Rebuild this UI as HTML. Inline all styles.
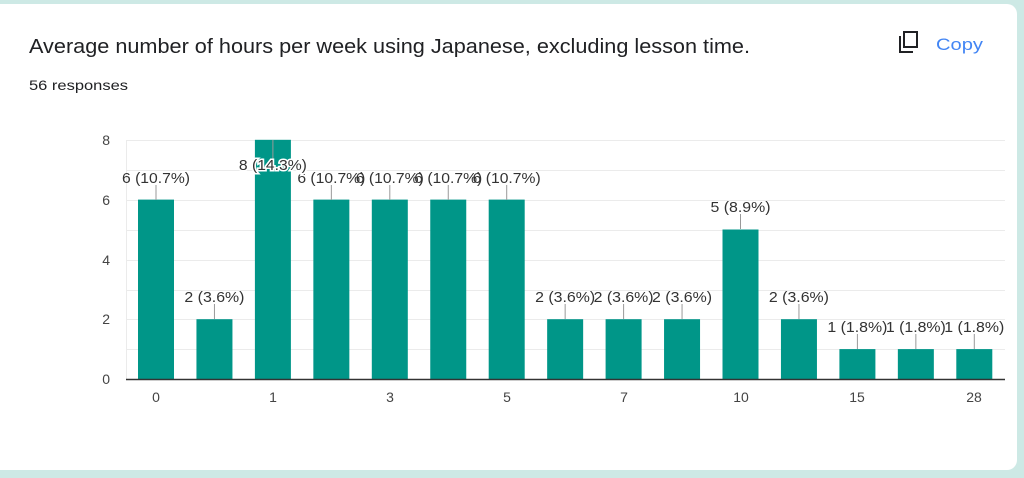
<!DOCTYPE html>
<html><head><meta charset="utf-8"><style>
html,body{margin:0;padding:0;width:1024px;height:478px;overflow:hidden;background:#cde9e5;font-family:"Liberation Sans",Arial,sans-serif}
.card{position:absolute;left:-10px;top:4px;width:1027px;height:466px;background:#fff;border-radius:10px}
</style></head><body>
<div class="card"></div>
<svg width="1024" height="478" style="position:absolute;left:0;top:0" font-family="Liberation Sans, Arial, sans-serif">
<text x="29" y="53" font-size="20" fill="#202124" textLength="721" lengthAdjust="spacingAndGlyphs">Average number of hours per week using Japanese, excluding lesson time.</text>
<text x="29" y="90" font-size="14" fill="#202124" textLength="99" lengthAdjust="spacingAndGlyphs">56 responses</text>
<g fill="none" stroke="#202124" stroke-width="2">
<rect x="904" y="32" width="13" height="15"/>
<path d="M900 36 V52 H913"/>
</g>
<text x="936" y="50" font-size="17" fill="#4285f4" textLength="47" lengthAdjust="spacingAndGlyphs">Copy</text>
<g stroke="#ebebeb" stroke-width="1">
<line x1="126" x2="1005" y1="140.5" y2="140.5"/><line x1="126" x2="1005" y1="170.5" y2="170.5"/>
<line x1="126" x2="1005" y1="200.5" y2="200.5"/><line x1="126" x2="1005" y1="230.5" y2="230.5"/>
<line x1="126" x2="1005" y1="260.5" y2="260.5"/><line x1="126" x2="1005" y1="290.5" y2="290.5"/>
<line x1="126" x2="1005" y1="319.5" y2="319.5"/><line x1="126" x2="1005" y1="349.5" y2="349.5"/>
<line x1="126.5" x2="126.5" y1="140" y2="379"/>
</g>
<g font-size="14" fill="#444" text-anchor="end">
<text x="110" y="145">8</text><text x="110" y="205">6</text><text x="110" y="265">4</text><text x="110" y="324">2</text><text x="110" y="384">0</text>
</g>
<g fill="#009688">
<rect x="138" y="199.6" width="36" height="179.4"/>
<rect x="196.45" y="319.2" width="36" height="59.8"/>
<rect x="254.9" y="139.8" width="36" height="239.2"/>
<rect x="313.35" y="199.6" width="36" height="179.4"/>
<rect x="371.8" y="199.6" width="36" height="179.4"/>
<rect x="430.25" y="199.6" width="36" height="179.4"/>
<rect x="488.7" y="199.6" width="36" height="179.4"/>
<rect x="547.15" y="319.2" width="36" height="59.8"/>
<rect x="605.6" y="319.2" width="36" height="59.8"/>
<rect x="664.05" y="319.2" width="36" height="59.8"/>
<rect x="722.5" y="229.5" width="36" height="149.5"/>
<rect x="780.95" y="319.2" width="36" height="59.8"/>
<rect x="839.4" y="349.1" width="36" height="29.9"/>
<rect x="897.85" y="349.1" width="36" height="29.9"/>
<rect x="956.3" y="349.1" width="36" height="29.9"/>
</g>
<line x1="126" x2="1005" y1="379.5" y2="379.5" stroke="#333" stroke-width="1.5"/>
<g font-size="14" fill="#444" text-anchor="middle">
<text x="156" y="402">0</text><text x="273" y="402">1</text><text x="390" y="402">3</text><text x="507" y="402">5</text><text x="624" y="402">7</text><text x="741" y="402">10</text><text x="857" y="402">15</text><text x="974" y="402">28</text>
</g>
<g stroke="#999" stroke-width="1">
<line x1="156" x2="156" y1="185" y2="200"/>
<line x1="214.45" x2="214.45" y1="304" y2="319"/>
<line x1="272.9" x2="272.9" y1="140" y2="160"/>
<line x1="331.35" x2="331.35" y1="185" y2="200"/>
<line x1="389.8" x2="389.8" y1="185" y2="200"/>
<line x1="448.25" x2="448.25" y1="185" y2="200"/>
<line x1="506.7" x2="506.7" y1="185" y2="200"/>
<line x1="565.15" x2="565.15" y1="304" y2="319"/>
<line x1="623.6" x2="623.6" y1="304" y2="319"/>
<line x1="682.05" x2="682.05" y1="304" y2="319"/>
<line x1="740.5" x2="740.5" y1="214" y2="229"/>
<line x1="798.95" x2="798.95" y1="304" y2="319"/>
<line x1="857.4" x2="857.4" y1="334" y2="349"/>
<line x1="915.85" x2="915.85" y1="334" y2="349"/>
<line x1="974.3" x2="974.3" y1="334" y2="349"/>
</g>
<g font-size="14.5" fill="#333" text-anchor="middle" lengthAdjust="spacingAndGlyphs">
<text x="156" y="183" textLength="68" lengthAdjust="spacingAndGlyphs">6 (10.7%)</text>
<text x="214.45" y="302" textLength="60" lengthAdjust="spacingAndGlyphs">2 (3.6%)</text>
<text x="331.35" y="183" textLength="68" lengthAdjust="spacingAndGlyphs">6 (10.7%)</text>
<text x="389.8" y="183" textLength="68" lengthAdjust="spacingAndGlyphs">6 (10.7%)</text>
<text x="448.25" y="183" textLength="68" lengthAdjust="spacingAndGlyphs">6 (10.7%)</text>
<text x="506.7" y="183" textLength="68" lengthAdjust="spacingAndGlyphs">6 (10.7%)</text>
<text x="565.15" y="302" textLength="60" lengthAdjust="spacingAndGlyphs">2 (3.6%)</text>
<text x="623.6" y="302" textLength="60" lengthAdjust="spacingAndGlyphs">2 (3.6%)</text>
<text x="682.05" y="302" textLength="60" lengthAdjust="spacingAndGlyphs">2 (3.6%)</text>
<text x="740.5" y="212" textLength="60" lengthAdjust="spacingAndGlyphs">5 (8.9%)</text>
<text x="798.95" y="302" textLength="60" lengthAdjust="spacingAndGlyphs">2 (3.6%)</text>
<text x="857.4" y="332" textLength="60" lengthAdjust="spacingAndGlyphs">1 (1.8%)</text>
<text x="915.85" y="332" textLength="60" lengthAdjust="spacingAndGlyphs">1 (1.8%)</text>
<text x="974.3" y="332" textLength="60" lengthAdjust="spacingAndGlyphs">1 (1.8%)</text>
<text x="272.9" y="170" textLength="68" lengthAdjust="spacingAndGlyphs" stroke="#fff" stroke-width="3" paint-order="stroke">8 (14.3%)</text>
</g>
</svg>
</body></html>
